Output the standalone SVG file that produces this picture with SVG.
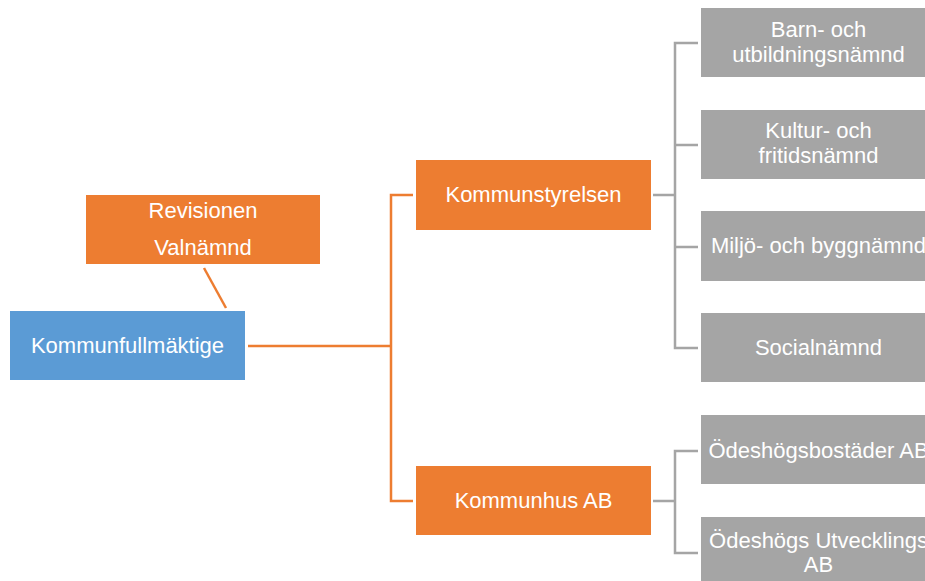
<svg xmlns="http://www.w3.org/2000/svg" width="925" height="581" viewBox="0 0 925 581">
<style>
.orange{fill:#ED7D31}
.blue{fill:#5B9BD5}
.gray{fill:#A5A5A5}
text{font-family:"Liberation Sans",Arial,sans-serif;font-size:22px;fill:#FFFFFF;text-anchor:middle}
.co{stroke:#ED7D31;stroke-width:2.5;fill:none}
.cg{stroke:#A5A5A5;stroke-width:2.5;fill:none}
</style>
<rect width="925" height="581" fill="#FFFFFF"/>
<g id="connectors">
<line class="co" x1="204" y1="268" x2="226" y2="308"/>
<path class="co" d="M248 346 H391 M413 195 H391 V501 H413"/>
<path class="cg" d="M653 195 H675 M698 43 H675 V348 H698 M698 145 H675 M698 247 H675"/>
<path class="cg" d="M653 501 H675 M698 451 H675 V553 H698"/>
</g>
<g id="revisionen">
<rect class="orange" x="86" y="195" width="234" height="69"/>
<text x="203" y="218">Revisionen</text>
<text x="203" y="255">Valnämnd</text>
</g>
<g id="kommunfullmaktige">
<rect class="blue" x="10" y="311" width="235" height="69"/>
<text x="127.5" y="353">Kommunfullmäktige</text>
</g>
<g id="kommunstyrelsen">
<rect class="orange" x="416" y="160" width="235" height="70"/>
<text x="533.5" y="202">Kommunstyrelsen</text>
</g>
<g id="kommunhus">
<rect class="orange" x="416" y="466" width="235" height="69"/>
<text x="533.5" y="508">Kommunhus AB</text>
</g>
<g id="barn">
<rect class="gray" x="701" y="8" width="235" height="69"/>
<text x="818.5" y="37">Barn- och</text>
<text x="818.5" y="62">utbildningsnämnd</text>
</g>
<g id="kultur">
<rect class="gray" x="701" y="110" width="235" height="69"/>
<text x="818.5" y="138">Kultur- och</text>
<text x="818.5" y="163">fritidsnämnd</text>
</g>
<g id="miljo">
<rect class="gray" x="701" y="211" width="235" height="70"/>
<text x="818.5" y="253">Miljö- och byggnämnd</text>
</g>
<g id="social">
<rect class="gray" x="701" y="313" width="235" height="69"/>
<text x="818.5" y="355">Socialnämnd</text>
</g>
<g id="bostader">
<rect class="gray" x="701" y="415" width="235" height="69"/>
<text x="818.5" y="458">Ödeshögsbostäder AB</text>
</g>
<g id="utveckling">
<rect class="gray" x="701" y="517" width="235" height="69"/>
<text x="818.5" y="548">Ödeshögs Utvecklings</text>
<text x="818.5" y="572">AB</text>
</g>
</svg>
